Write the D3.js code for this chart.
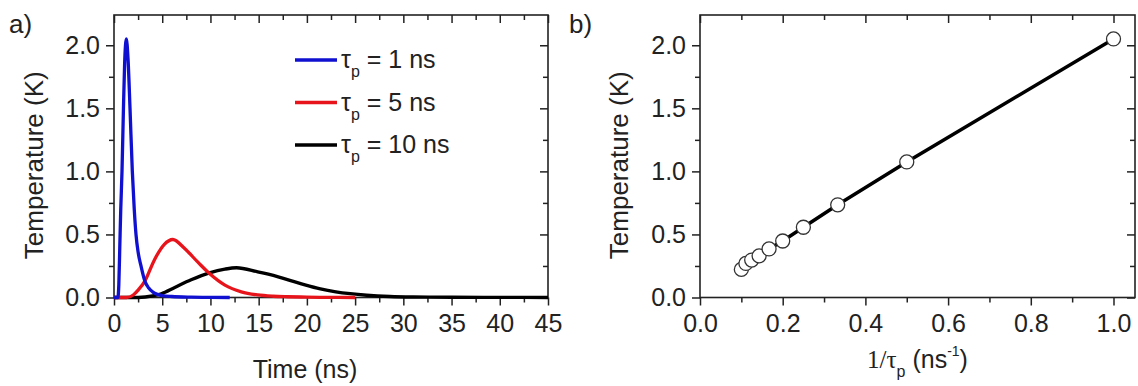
<!DOCTYPE html>
<html>
<head>
<meta charset="utf-8">
<script src="https://cdn.jsdelivr.net/npm/d3@7"></script>
<style>
  body { margin: 0; background: #fff; }
  svg { display: block; }
  text { font-family: "Liberation Sans", Arial, sans-serif; fill: #222; }
</style>
</head>
<body>
<svg id="chart" width="1138" height="386"></svg>
<script>
// ---- Panel a: temperature transients for three pulse widths ----
const blueTime = [0, 0.4, 0.5, 0.6, 0.7, 0.83, 0.98, 1.1, 1.28, 1.45, 1.66, 1.9, 2.1, 2.28, 2.5, 2.8, 3.2, 3.6, 4.0, 4.5, 5, 6, 8, 10, 12];
const blueTemp = [0, 0, 0.1, 0.4, 0.7, 1.0, 1.5, 1.85, 2.05, 1.9, 1.5, 1.0, 0.7, 0.5, 0.36, 0.25, 0.13, 0.075, 0.045, 0.025, 0.015, 0.008, 0.003, 0.001, 0];

const redTime = [0, 1.3, 2.0, 2.5, 3.2, 4.2, 5.2, 6.1, 7.3, 8.7, 9.9, 11.5, 13.2, 14.9, 16.5, 18, 20, 22, 25];
const redTemp = [0, 0, 0.02, 0.058, 0.13, 0.3, 0.42, 0.46, 0.39, 0.28, 0.19, 0.098, 0.045, 0.02, 0.01, 0.006, 0.003, 0.001, 0];

const blackTime = [0, 2.5, 4.0, 4.9, 6.3, 8.0, 9.9, 11.5, 12.7, 14.9, 16.0, 17.2, 18.5, 19.8, 21.4, 23.0, 24.5, 26.2, 28.6, 31, 35, 40, 45];
const blackTemp = [0, 0, 0.012, 0.03, 0.08, 0.14, 0.195, 0.225, 0.236, 0.204, 0.185, 0.16, 0.13, 0.10, 0.068, 0.045, 0.03, 0.018, 0.008, 0.004, 0.002, 0.001, 0];

const seriesColors = ["#1010d0", "#e8141c", "#000000"];
const legendLabels = ["1 ns", "5 ns", "10 ns"];

const timeTicks = [0, 5, 10, 15, 20, 25, 30, 35, 40, 45];
const timeMinor = [2.5, 7.5, 12.5, 17.5, 22.5, 27.5, 32.5, 37.5, 42.5];
const tempTicks = [0, 0.5, 1.0, 1.5, 2.0];
const tempMinor = [0.25, 0.75, 1.25, 1.75];

// ---- Panel b: peak temperature vs inverse pulse width ----
const invTau = [1.0, 0.5, 0.333, 0.25, 0.2, 0.167, 0.143, 0.125, 0.111, 0.1];
const peakTemp = [2.05, 1.075, 0.735, 0.557, 0.448, 0.385, 0.33, 0.297, 0.27, 0.223];
const invTicks = [0, 0.2, 0.4, 0.6, 0.8, 1.0];
const invMinor = [0.1, 0.3, 0.5, 0.7, 0.9];

const svg = d3.select("#chart");
const TOP = 15, BOTTOM = 297.5;
const MAJ = 8, MIN = 5;
const TICK_FONT = "25px";

function drawFrame(g, x, y, xMaj, xMin, yMaj, yMin, xFmt, yFmt) {
  const [x0, x1] = x.range();
  const [y0, y1] = y.range();

  // bottom (outward)
  g.append("g").attr("transform", `translate(0,${y0})`)
    .call(d3.axisBottom(x).tickValues(xMaj).tickSize(MAJ).tickPadding(9).tickFormat(xFmt));
  g.append("g").attr("transform", `translate(0,${y0})`)
    .call(d3.axisBottom(x).tickValues(xMin).tickSize(MIN).tickFormat(""));
  // left (outward)
  g.append("g").attr("transform", `translate(${x0},0)`)
    .call(d3.axisLeft(y).tickValues(yMaj).tickSize(MAJ).tickPadding(6).tickFormat(yFmt));
  g.append("g").attr("transform", `translate(${x0},0)`)
    .call(d3.axisLeft(y).tickValues(yMin).tickSize(MIN).tickFormat(""));
  // top (inward)
  g.append("g").attr("transform", `translate(0,${y1})`)
    .call(d3.axisTop(x).tickValues(xMaj).tickSize(-MAJ).tickFormat(""));
  g.append("g").attr("transform", `translate(0,${y1})`)
    .call(d3.axisTop(x).tickValues(xMin).tickSize(-MIN).tickFormat(""));
  // right (inward)
  g.append("g").attr("transform", `translate(${x1},0)`)
    .call(d3.axisRight(y).tickValues(yMaj).tickSize(-MAJ).tickFormat(""));
  g.append("g").attr("transform", `translate(${x1},0)`)
    .call(d3.axisRight(y).tickValues(yMin).tickSize(-MIN).tickFormat(""));

  g.selectAll(".domain").remove();
  g.selectAll(".tick line").attr("stroke", "#222").attr("stroke-width", 1.5);
  g.selectAll(".tick text").style("font-size", TICK_FONT).attr("fill", "#222")
    .style("font-family", '"Liberation Sans", Arial, sans-serif');

  g.append("rect")
    .attr("x", x0).attr("y", y1)
    .attr("width", x1 - x0).attr("height", y0 - y1)
    .attr("fill", "none").attr("stroke", "#222").attr("stroke-width", 1.6);
}

// ================= Panel a =================
const xa = d3.scaleLinear().domain([0, 45]).range([114, 548]);
const ya = d3.scaleLinear().domain([0, 2.24]).range([BOTTOM, TOP]);
const ga = svg.append("g");

drawFrame(ga, xa, ya, timeTicks, timeMinor, tempTicks, tempMinor,
  d3.format("d"), d3.format(".1f"));

const plotA = ga.append("g");
const lineA = d3.line().x(d => xa(d[0])).y(d => ya(d[1])).curve(d3.curveMonotoneX);
const seriesA = [
  d3.zip(blueTime, blueTemp),
  d3.zip(redTime, redTemp),
  d3.zip(blackTime, blackTemp)
];
// black first, then red, blue on top
[2, 1, 0].forEach(i => {
  plotA.append("path")
    .datum(seriesA[i])
    .attr("d", lineA)
    .attr("fill", "none")
    .attr("stroke", seriesColors[i])
    .attr("stroke-width", 3.3)
    .attr("stroke-linejoin", "round");
});

// legend
const legend = ga.append("g");
legendLabels.forEach((lab, i) => {
  const yy = 60 + i * 42.5;
  legend.append("line")
    .attr("x1", 295).attr("x2", 337).attr("y1", yy).attr("y2", yy)
    .attr("stroke", seriesColors[i]).attr("stroke-width", 3.3);
  const t = legend.append("text").attr("x", 341).attr("y", yy + 8).style("font-size", "25px");
  t.append("tspan").text("τ");
  t.append("tspan").text("p").style("font-size", "16px").attr("dy", 9);
  t.append("tspan").text(" = " + lab).attr("dy", -9);
});

// axis titles
ga.append("text")
  .attr("x", 305).attr("y", 378)
  .attr("text-anchor", "middle").style("font-size", "25px")
  .text("Time (ns)");
ga.append("text")
  .attr("transform", `translate(43,${(TOP + BOTTOM) / 2 + 9}) rotate(-90)`)
  .attr("text-anchor", "middle").style("font-size", "26px")
  .text("Temperature (K)");
ga.append("text").attr("x", 9).attr("y", 33).style("font-size", "26px").text("a)");

// ================= Panel b =================
const xb = d3.scaleLinear().domain([0, 1.052]).range([700, 1135]);
const yb = d3.scaleLinear().domain([0, 2.24]).range([BOTTOM, TOP]);
const gb = svg.append("g");

drawFrame(gb, xb, yb, invTicks, invMinor, tempTicks, tempMinor,
  d3.format(".1f"), d3.format(".1f"));

const pts = d3.zip(invTau, peakTemp).sort((a, b) => a[0] - b[0]);
gb.append("path")
  .datum(pts)
  .attr("d", d3.line().x(d => xb(d[0])).y(d => yb(d[1])))
  .attr("fill", "none").attr("stroke", "#000").attr("stroke-width", 3.5);
gb.selectAll("circle.pt")
  .data(pts)
  .join("circle")
  .attr("class", "pt")
  .attr("cx", d => xb(d[0])).attr("cy", d => yb(d[1]))
  .attr("r", 7)
  .attr("fill", "#fff").attr("stroke", "#333").attr("stroke-width", 1.3);

const xt = gb.append("text")
  .attr("x", (700 + 1135) / 2).attr("y", 368)
  .attr("text-anchor", "middle").style("font-size", "25px");
xt.append("tspan").text("1/τ").style("font-family", '"Liberation Serif", "Times New Roman", serif');
xt.append("tspan").text("p").style("font-size", "16px").attr("dy", 9);
xt.append("tspan").text(" (ns").attr("dy", -9);
xt.append("tspan").text("-1").style("font-size", "14px").attr("dy", -12);
xt.append("tspan").text(")").attr("dy", 12);

gb.append("text")
  .attr("transform", `translate(628,${(TOP + BOTTOM) / 2 + 9}) rotate(-90)`)
  .attr("text-anchor", "middle").style("font-size", "26px")
  .text("Temperature (K)");
gb.append("text").attr("x", 569).attr("y", 33).style("font-size", "26px").text("b)");
</script>
</body>
</html>
